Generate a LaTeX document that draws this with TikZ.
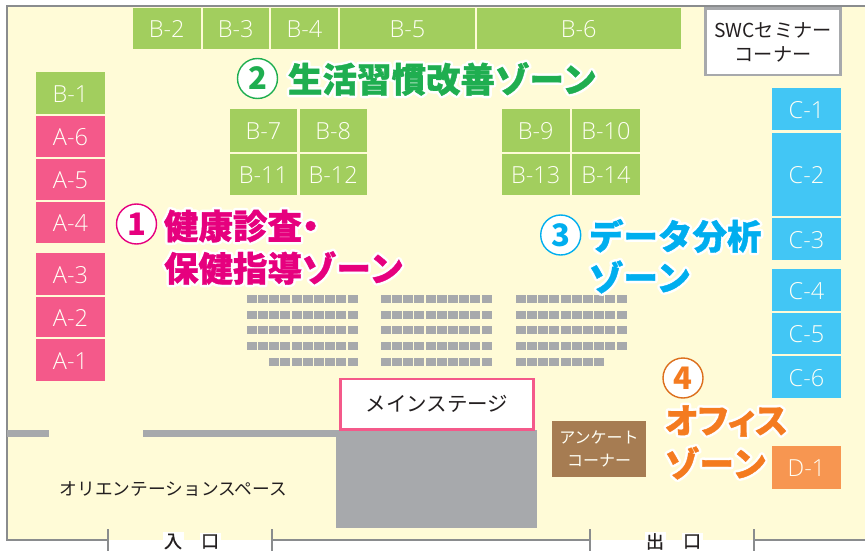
\documentclass[tikz,border=0pt]{standalone}
\usepackage{fontspec}
\setmainfont{Open Sans Light}[BoldFont={Open Sans}]
\newfontfamily\jp{Noto Sans CJK JP}
\newfontfamily\doorfont{Noto Sans CJK JP}[FakeBold=1]
\newfontfamily\zonefont{Noto Sans CJK JP}
\newfontfamily\paltfont{Noto Sans CJK JP}[RawFeature=+palt]
\definecolor{floorc}{HTML}{FFFBD7}
\definecolor{framec}{HTML}{8A8C8E}
\definecolor{seatc}{HTML}{A7A9AC}
\definecolor{greenc}{HTML}{A2CE5E}
\definecolor{pinkc}{HTML}{F4598A}
\definecolor{bluec}{HTML}{42C6F5}
\definecolor{orangec}{HTML}{F79651}
\definecolor{brownc}{HTML}{A67C52}
\definecolor{inkc}{HTML}{231F20}
\definecolor{labelc}{HTML}{FFFFF5}
\definecolor{zonea}{HTML}{E6007E}
\definecolor{zoneb}{HTML}{1FAE50}
\definecolor{zonec}{HTML}{00AEEF}
\definecolor{zoned}{HTML}{F47B20}
\def\rgba{0.902 0 0.494}
\def\rgbb{0.122 0.682 0.314}
\def\rgbc{0 0.682 0.937}
\def\rgbd{0.957 0.482 0.125}
\tikzset{
  stall/.style={inner sep=0pt,outer sep=0pt,text=labelc,font=\fontsize{23.5}{23.5}\selectfont},
  boxlabel/.style={inner sep=0pt,outer sep=0pt,align=center,font=\jp\fontsize{17.7}{24}\selectfont,text=inkc},
  zonetext/.style={inner sep=0pt,outer sep=0pt,anchor=west,font=\zonefont\bfseries\fontsize{34.5}{34.5}\selectfont},
  zonecircle/.style={circle,fill=white,draw=#1,line width=1.4pt,minimum size=40pt,inner sep=0pt,font=\zonefont\bfseries\fontsize{31}{31}\selectfont},
  wall/.style={draw=framec,line width=2pt},
  doorlabel/.style={inner sep=1.5pt,fill=white,font=\doorfont\fontsize{18}{18}\selectfont,text=inkc}
}
\newcommand\stallbox[7]{%
  \pgfmathsetmacro\sw{#4-#2}\pgfmathsetmacro\sh{#5-#3}%
  \pgfmathsetmacro\cx{(#2+#4)/2}\pgfmathsetmacro\cy{(#3+#5)/2}%
  \node[stall,fill=#6,minimum width=\sw pt,minimum height=\sh pt] (#1) at (\cx,\cy+0.8) {};
  \node[stall] (#1t) at (\cx,\cy+1.7) {#7};}
% name, x, y, colour, rgb of colour, text: a white outline under a slightly thickened fill
\newcommand\zonelabel[6]{%
  \node[zonetext,text=#4] (#1) at (#2,#3) {%
    \rlap{\special{pdf:code 1 1 1 RG 1 1 1 rg 1 j 1 J 2 Tr 5.5 w}#6\special{pdf:code 0 Tr 1 w}}%
    \special{pdf:code #5 RG #5 rg 1 j 1 J 2 Tr 0.35 w}#6\special{pdf:code 0 Tr 1 w}};}
\newcommand\seatrow[3]{%
  \foreach \o in {0,11,22,33,45,56,67,78,89,101}{%
    \ifdim\o pt<#3pt\else
      \fill[seatc] ({#1+\o},#2) rectangle ({#1+\o+10},{#2+8});
    \fi}}
\begin{document}
\begin{tikzpicture}[x=1pt,y=-1pt]
\useasboundingbox (0,0) rectangle (865,551);
\fill[white] (0,0) rectangle (865,551);
\fill[floorc] (7,7) rectangle (865,540);
% frame
\coordinate (bl) at (6.5,540);
\coordinate (tl) at (6.5,6.5);
\coordinate (tr) at (865,6.5);
\coordinate (ent1) at (108,540);
\coordinate (ent2) at (272,540);
\coordinate (ex1) at (590,540);
\coordinate (ex2) at (754,540);
\coordinate (br) at (865,540);
\draw[wall] (ent1) -- (bl) -- (tl) -- (tr);
\draw[wall] (ent2) -- (ex1);
\draw[wall] (ex2) -- (br);
\foreach \n in {ent1,ent2,ex1,ex2}{\draw[wall] ([yshift=11pt]\n) -- ([yshift=-11pt]\n);}
% top row
\stallbox{b2}{133}{7.2}{200.5}{48.2}{greenc}{B-2}
\stallbox{b3}{203}{7.2}{268.5}{48.2}{greenc}{B-3}
\stallbox{b4}{271}{7.2}{338}{48.2}{greenc}{B-4}
\stallbox{b5}{340}{7.2}{475}{48.2}{greenc}{B-5}
\stallbox{b6}{476.5}{7.2}{681}{48.2}{greenc}{B-6}
% left column
\stallbox{b1}{36}{71.2}{105}{113.2}{greenc}{\raisebox{-1.5pt}{B-1}}
\stallbox{a6}{36}{115.2}{105}{156.2}{pinkc}{A-6}
\stallbox{a5}{36}{158.2}{105}{199.2}{pinkc}{A-5}
\stallbox{a4}{36}{200.7}{105}{242.2}{pinkc}{A-4}
\stallbox{a3}{36}{252.2}{105}{293.7}{pinkc}{A-3}
\stallbox{a2}{36}{295.7}{105}{336.2}{pinkc}{A-2}
\stallbox{a1}{36}{338.2}{105}{380.2}{pinkc}{A-1}
% centre groups
\stallbox{b7}{230}{108.2}{297}{150.7}{greenc}{B-7}
\stallbox{b8}{299.5}{108.2}{367}{150.7}{greenc}{B-8}
\stallbox{b11}{230}{152.7}{297}{194.2}{greenc}{B-11}
\stallbox{b12}{299.5}{152.7}{367}{194.2}{greenc}{B-12}
\stallbox{b9}{502}{108.2}{569.5}{150.7}{greenc}{B-9}
\stallbox{b10}{572}{108.2}{640}{150.7}{greenc}{B-10}
\stallbox{b13}{502}{152.7}{569.5}{194.2}{greenc}{B-13}
\stallbox{b14}{572}{152.7}{640}{194.2}{greenc}{B-14}
% right column
\stallbox{c1}{772}{87.2}{841}{129.2}{bluec}{C-1}
\stallbox{c2}{772}{131.7}{841}{214.7}{bluec}{C-2}
\stallbox{c3}{772}{217.2}{841}{259.2}{bluec}{C-3}
\stallbox{c4}{772}{268.2}{841}{310.2}{bluec}{C-4}
\stallbox{c5}{772}{312.2}{841}{353.2}{bluec}{C-5}
\stallbox{c6}{772}{355.2}{841}{397.2}{bluec}{C-6}
\stallbox{d1}{772}{445.2}{841}{488.2}{orangec}{D-1}
% seats
\foreach \y in {295,311,326,342}{\seatrow{247}{\y}{0}\seatrow{381}{\y}{0}\seatrow{516}{\y}{0}}
\seatrow{247}{358}{22}
\seatrow{381}{358}{0}
\foreach \o in {0,11,22,33,45,56,67,78}{\fill[seatc] ({516+\o},358) rectangle ({516+\o+10},366);}
% walls and stage
\fill[seatc] (7,430) rectangle (49,437);
\fill[seatc] (143,430) rectangle (336,437);
\fill[seatc] (336,430) rectangle (537,528);
\node[draw=pinkc,line width=2.5pt,fill=white,minimum width=193pt,minimum height=50.5pt,inner sep=0pt,font=\jp\fontsize{20.5}{20.5}\selectfont,text=inkc] (stage) at (437,404) {メインステージ};
\node[draw=seatc,line width=2.5pt,fill=white,minimum width=135pt,minimum height=66.5pt,boxlabel,font=\jp\fontsize{19.2}{24}\selectfont] (swc) at (773,42) {SWCセミナー\\コーナー};
\node[fill=brownc,minimum width=94pt,minimum height=56pt,boxlabel,text=labelc,font=\jp\fontsize{16}{23}\selectfont] (enq) at (599,449) {アンケート\\コーナー};
\node[boxlabel] (ori) at (173.5,489.5) {オリエンテーションスペース};
% doors
\node[doorlabel] (in1) at (173,541.5) {入};
\node[doorlabel] (in2) at (210,541.5) {口};
\node[doorlabel] (out1) at (655,541.5) {出};
\node[doorlabel] (out2) at (692,541.5) {口};
% zones
\node[zonecircle=zonea,text=zonea] (z1) at (136.5,224) {1};
\zonelabel{za1}{164}{226}{zonea}{\rgba}{健康診査{\paltfont\bfseries ・}}
\zonelabel{za2}{164}{268}{zonea}{\rgba}{保健指導ゾーン}
\node[zonecircle=zoneb,text=zoneb] (z2) at (257.5,78.5) {2};
\zonelabel{zb}{288}{79}{zoneb}{\rgbb}{生活習慣改善ゾーン}
\node[zonecircle=zonec,text=zonec] (z3) at (560.7,235) {3};
\zonelabel{zc1}{589}{236}{zonec}{\rgbc}{データ分析}
\zonelabel{zc2}{589}{277}{zonec}{\rgbc}{ゾーン}
\node[zonecircle=zoned!90!black,text=zoned] (z4) at (683,378) {4};
\zonelabel{zd1}{665}{421}{zoned}{\rgbd}{{\paltfont\bfseries オフィス}}
\zonelabel{zd2}{665}{463}{zoned}{\rgbd}{ゾーン}
\end{tikzpicture}
\end{document}
